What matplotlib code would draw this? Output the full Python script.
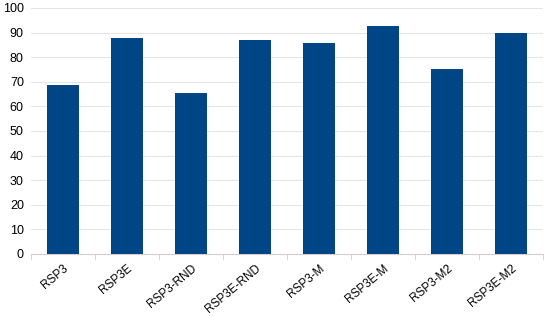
import numpy as np
import matplotlib.pyplot as plt

plt.rcParams['font.family'] = ['Liberation Sans', 'DejaVu Sans']

categories = ['RSP3', 'RSP3E', 'RSP3-RND', 'RSP3E-RND', 'RSP3-M', 'RSP3E-M', 'RSP3-M2', 'RSP3E-M2']
values = [68.7, 87.9, 65.3, 87.1, 85.8, 92.6, 75.3, 90.0]

fig = plt.figure(figsize=(5.5, 3.17), dpi=100)
ax = fig.add_axes([0.056, 0.199, 0.931, 0.776])

x = np.arange(len(categories))
ax.bar(x, values, width=0.5, color='#004586', zorder=3)

ax.set_xlim(-0.5, len(categories) - 0.5)
ax.set_ylim(0, 100)
ax.set_yticks(np.arange(0, 101, 10))
ax.yaxis.grid(True, color='#e6e6e6', linewidth=0.8, zorder=0)

ax.set_xticks(x)
ax.set_xticklabels(categories, rotation=40, ha='right', rotation_mode='anchor')
ax.set_xticks(np.arange(-0.5, len(categories)), minor=True)
ax.tick_params(axis='x', which='major', length=0, labelsize=8.5, pad=6)
ax.tick_params(axis='x', which='minor', length=4, color='#d0d0d0')
ax.tick_params(axis='y', length=0, labelsize=9, pad=5)

for s in ['top', 'right', 'left']:
    ax.spines[s].set_visible(False)
ax.spines['bottom'].set_color('#d0d0d0')

fig.savefig('out.png', dpi=100)
